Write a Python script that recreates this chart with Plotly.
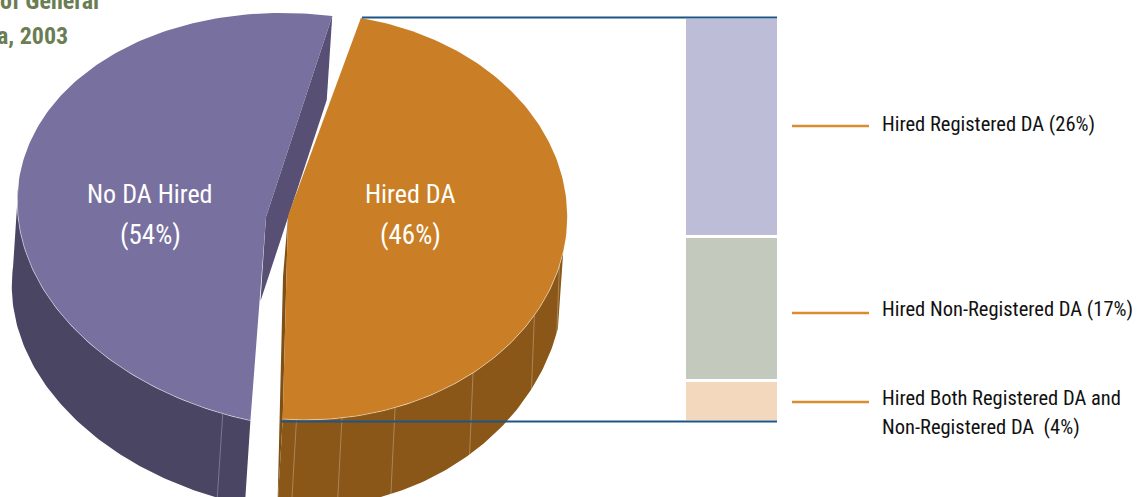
import numpy as np
import plotly.graph_objects as go

# ---- data ----
pie_labels = ["No DA Hired", "Hired DA"]
pie_values = [54, 46]
bar_names = ["Hired Both Registered DA and<br>Non-Registered DA  (4%)",
             "Hired Non-Registered DA (17%)",
             "Hired Registered DA (26%)"]
bar_heights = [4.84, 17.14, 26.0]   # bottom to top, as drawn in the picture
bar_colors = ["#f3d8bd", "#c3c9bd", "#bdbdd7"]
title_lines = ["e of General", "a, 2003"]

W, H = 1144, 497
FONT = "Roboto Condensed"

# ---- projection of the tilted pie: rim ellipses, apexes, extrusion ----
def ellipse(c, a, b, rot_deg, t_deg):
    t = np.radians(np.asarray(t_deg, float))
    r = np.radians(rot_deg)
    u = a * np.cos(t)
    v = b * np.sin(t)
    return c[0] + u * np.cos(r) - v * np.sin(r), c[1] + u * np.sin(r) + v * np.cos(r)

O_TOP = dict(c=(305.6, 216.7), a=261.6, b=203.2, rot_deg=0)
O_BOT = dict(c=(300.6, 277.0), a=264.0, b=231.0, rot_deg=0)
O_APEX = (288.0, 216.0)
O_APEX_LOW = (283.0, 277.0)
P_TOP = dict(c=(309.5, 221.3), a=293.5, b=206.6, rot_deg=7.6)
P_OFF = (-5.5, 84.0)
P_APEX = (266.0, 217.0)

O_START, O_DEG_PER_PCT = -77.8, 3.757
P_START, P_DEG_PER_PCT = -90.9, -3.2

t_o = np.linspace(O_START, O_START + pie_values[1] * O_DEG_PER_PCT, 160)
t_p = np.linspace(P_START, P_START + pie_values[0] * P_DEG_PER_PCT, 180)
t_o_wall = np.linspace(10, t_o[-1], 90)
t_o_wall_low = np.linspace(13, t_o[-1], 90)
t_p_wall = np.linspace(-180, t_p[-1], 90)

C_P_FACE, C_P_WALL, C_P_INNER = "#78719f", "#4b4564", "#574f74"
C_O_FACE, C_O_WALL, C_O_INNER = "#ca7f26", "#8a5718", "#7f5016"
SEAM = "rgba(255,255,255,0.28)"
RIM = "rgba(255,255,255,0.45)"

fig = go.Figure()

def poly(xs, ys, color):
    fig.add_trace(go.Scatter(x=list(xs), y=list(ys), mode="lines", fill="toself", fillcolor=color,
                             line=dict(width=0, color=color), hoverinfo="skip", showlegend=False))

def stroke(xs, ys, color, width=1):
    fig.add_trace(go.Scatter(x=list(xs), y=list(ys), mode="lines", line=dict(width=width, color=color),
                             hoverinfo="skip", showlegend=False))

# purple slice
px, py = ellipse(t_deg=t_p, **P_TOP)
wx, wy = ellipse(t_deg=t_p_wall, **P_TOP)
sx, sy = px[0], py[0]
poly([sx, sx + P_OFF[0], P_APEX[0] + P_OFF[0], P_APEX[0]],
     [sy, sy + P_OFF[1], P_APEX[1] + P_OFF[1], P_APEX[1]], C_P_INNER)
poly(np.r_[wx, (wx + P_OFF[0])[::-1]], np.r_[wy, (wy + P_OFF[1])[::-1]], C_P_WALL)
for t in [-258.1]:
    x0, y0 = ellipse(t_deg=t, **P_TOP)
    stroke([x0, x0 + P_OFF[0]], [y0, y0 + P_OFF[1]], SEAM)
poly(np.r_[px, P_APEX[0]], np.r_[py, P_APEX[1]], C_P_FACE)
stroke(wx, wy, RIM)

# orange slice
ox, oy = ellipse(t_deg=t_o, **O_TOP)
wx, wy = ellipse(t_deg=t_o_wall, **O_TOP)
bx, by = ellipse(t_deg=t_o_wall_low, **O_BOT)
poly([O_APEX[0], O_APEX_LOW[0], bx[-1], wx[-1]], [O_APEX[1], O_APEX_LOW[1], by[-1], wy[-1]], C_O_INNER)
poly(np.r_[wx, bx[::-1]], np.r_[wy, by[::-1]], C_O_WALL)
for t in [92, 82, 70, 50.2, 29, 14]:
    x0, y0 = ellipse(t_deg=t, **O_TOP)
    x1, y1 = ellipse(t_deg=t, **O_BOT)
    stroke([x0, x1], [y0, y1], SEAM)
poly(np.r_[ox, O_APEX[0]], np.r_[oy, O_APEX[1]], C_O_FACE)
stroke(wx, wy, RIM)

# stacked breakdown bar
for v, c, n in zip(bar_heights, bar_colors, bar_names):
    fig.add_trace(go.Bar(x=[731.5], y=[v], width=93.7, yaxis="y2", name=n.replace("<br>", " "),
                         marker=dict(color=c, line=dict(color="white", width=2.7)),
                         hoverinfo="skip", showlegend=False))

# leaders and connectors
line_y = [402, 313, 126]
for y in line_y:
    fig.add_shape(type="line", x0=792, x1=869, y0=y, y1=y, line=dict(color="#d98c31", width=2.5))
C_CONN = "#1c5586"
fig.add_shape(type="line", x0=362, x1=777, y0=17.5, y1=17.5, line=dict(color=C_CONN, width=2))
fig.add_shape(type="line", x0=281, x1=777, y0=421.5, y1=421.5, line=dict(color=C_CONN, width=2))

# texts
def note(x, y, text, size, color, anchor="left", bold=False, align="left"):
    fig.add_annotation(x=x, y=y, text=("<b>%s</b>" % text) if bold else text, showarrow=False,
                       xanchor=anchor, yanchor="middle", align=align, borderpad=0,
                       font=dict(family=FONT, size=size, color=color))

for cx, lab, val in zip([150, 410], pie_labels, pie_values):
    note(cx, 194, lab, 26, "white", "center")
    note(cx, 235, "(%d%%)" % val, 27, "white", "center")
for y, n in zip([398, 309, 124], bar_names):
    for i, part in enumerate(n.split("<br>")):
        note(881, y + 29 * i, part, 20.5, "#111111")
GREEN = "#6b7d52"
note(100, 1, title_lines[0], 24, GREEN, "right", True)
note(69, 36, title_lines[1], 24, GREEN, "right", True)

fig.update_layout(
    width=W, height=H, margin=dict(l=0, r=0, t=0, b=0), autosize=False,
    paper_bgcolor="white", plot_bgcolor="white", barmode="stack", showlegend=False,
    xaxis=dict(range=[0, W], visible=False, fixedrange=True),
    yaxis=dict(range=[H, 0], visible=False, fixedrange=True),
    yaxis2=dict(range=[-76 / 8.4, 421 / 8.4], overlaying="y", visible=False, fixedrange=True),
)
fig.write_html("out.html", config=dict(displayModeBar=False),
               post_script="document.body.style.margin='0';document.documentElement.style.overflow='hidden';")
